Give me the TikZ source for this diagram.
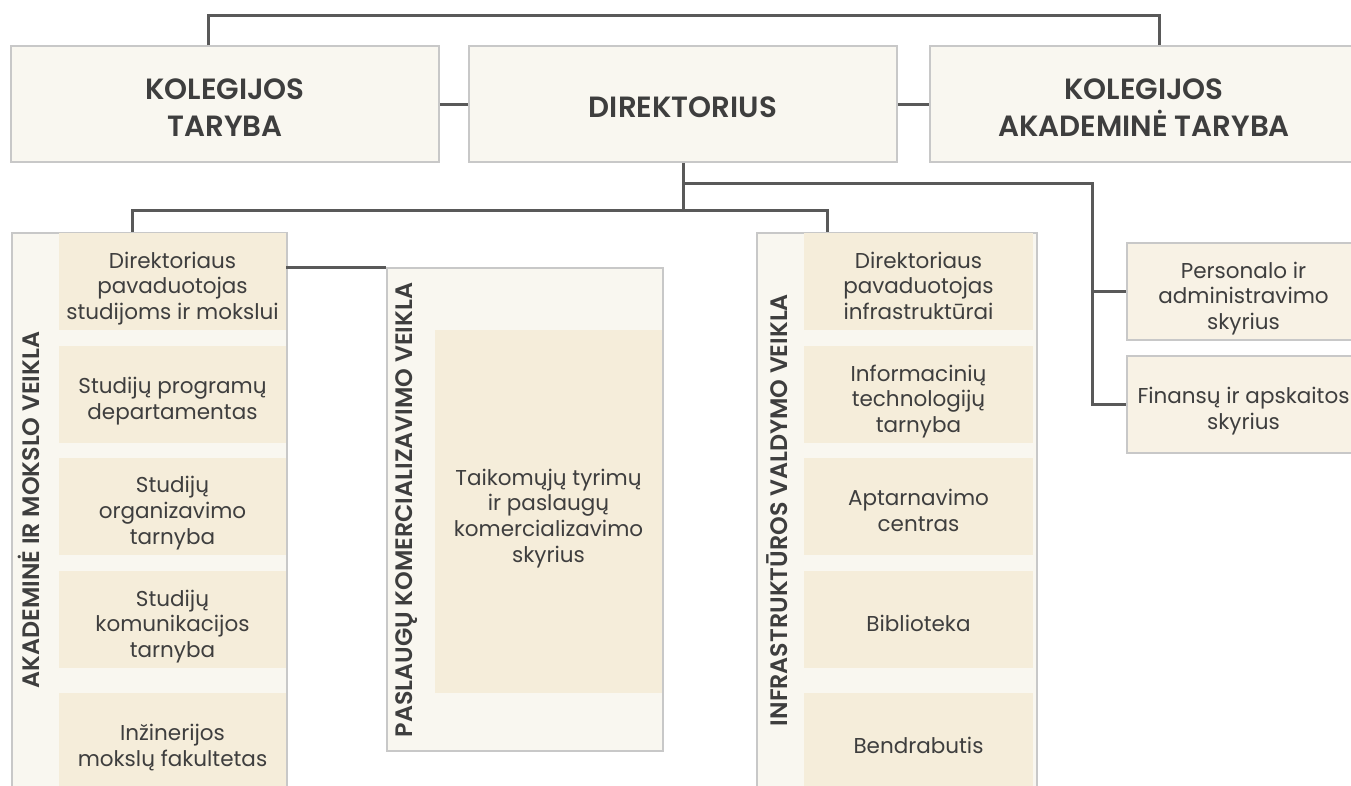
\documentclass[tikz,border=0pt]{standalone}
\usepackage{fontspec}
\setmainfont{Poppins}[BoldFont={Poppins SemiBold}]
\usetikzlibrary{positioning,calc}

\definecolor{paleback}{HTML}{F9F7F0}
\definecolor{unitfill}{HTML}{F5EDDA}
\definecolor{sidefill}{HTML}{F8F2E5}
\definecolor{boxline}{HTML}{C8C8C8}
\definecolor{linkgrey}{HTML}{595959}
\definecolor{ink}{HTML}{3E3E3E}

\newcommand{\headfont}{\fontsize{29.3}{37}\selectfont\bfseries}
\newcommand{\bodyfont}{\fontsize{21.5}{25.7}\selectfont}
\newcommand{\labelfont}{\fontsize{23.8}{27}\selectfont\bfseries}
% struts that set the text a little low in its box
\newcommand{\headtext}[1]{\rule{0pt}{27.5pt}#1}
\newcommand{\unittext}[1]{\rule{0pt}{30.6pt}#1\rule[-6pt]{0pt}{6pt}}

\tikzset{
  topbox/.style={draw=boxline, line width=1.5pt, fill=paleback, text=ink, font=\headfont,
    align=center, minimum width=428, minimum height=116, inner sep=0pt},
  frame/.style={draw=boxline, line width=1.5pt, fill=paleback, inner sep=0pt},
  unitbox/.style={fill=unitfill, text=ink, font=\bodyfont, align=center,
    minimum width=227, minimum height=97, inner sep=0pt},
  sidebox/.style={unitbox, fill=sidefill, draw=boxline, line width=1.5pt, minimum width=233},
  sidelabel/.style={rotate=90, text=ink, font=\labelfont, inner sep=0pt},
  link/.style={draw=linkgrey, line width=3pt}
}

\begin{document}
\begin{tikzpicture}[x=1pt,y=-1pt]
\useasboundingbox (0,0) rectangle (1351,785);

% Top level
\node[topbox] (kt) at (225,104) {\headtext{KOLEGIJOS\\TARYBA}};
\node[topbox] (dir) at (683,104) {\headtext{DIREKTORIUS}};
\node[topbox] (kat) at (1144,104) {\headtext{KOLEGIJOS\\AKADEMINĖ TARYBA}};

\coordinate (topbar) at (683,15);
\draw[link] ([xshift=-17]kt.north) |- (topbar) -| ([xshift=15]kat.north);
\draw[link] (kt.east) -- (dir.west);
\draw[link] (dir.east) -- (kat.west);

% Column frames
\node[frame, minimum width=275, minimum height=567] (acad) at (149.5,516.5) {};
\node[frame, minimum width=276, minimum height=483] (pas) at (525,509.5) {};
\node[frame, minimum width=280, minimum height=567] (infra) at (897,516.5) {};

\node[sidelabel] (acadlabel) at (29,510) {AKADEMINĖ IR MOKSLO VEIKLA};
\node[sidelabel] (paslabel) at (407,510) {PASLAUGŲ KOMERCIALIZAVIMO VEIKLA};
\node[sidelabel] (infralabel) at (777,510) {INFRASTRUKTŪROS VALDYMO VEIKLA};

% Academic units
\foreach \n/\y/\txt in {1/281.5/{Direktoriaus\\pavaduotojas\\studijoms ir mokslui},
                        2/394.5/{Studijų programų\\departamentas},
                        3/506/{Studijų\\organizavimo\\tarnyba},
                        4/619.5/{Studijų\\komunikacijos\\tarnyba},
                        5/741.5/{Inžinerijos\\mokslų fakultetas}}
  \node[unitbox] (a\n) at (172.5,\y) {\unittext{\txt}};

% Commercial unit
\node[unitbox, minimum height=363] (p1) at (548.5,511.5) {\unittext{Taikomųjų tyrimų\\ir paslaugų\\komercializavimo\\skyrius}};

% Infrastructure units
\foreach \n/\y/\txt in {1/281.5/{Direktoriaus\\pavaduotojas\\infrastruktūrai},
                        2/394.5/{Informacinių\\technologijų\\tarnyba},
                        3/506/{Aptarnavimo\\centras},
                        4/619.5/{Biblioteka},
                        5/741.5/{Bendrabutis}}
  \node[unitbox, minimum width=229] (i\n) at (918.5,\y) {\unittext{\txt}};

% Side departments
\node[sidebox] (pers) at (1243.5,291.5) {\unittext{Personalo ir\\administravimo\\skyrius}};
\node[sidebox] (fin) at (1243.5,404.5) {\unittext{Finansų ir apskaitos\\skyrius}};

% Director links
\coordinate (fork) at (683,210);
\coordinate (sidefork) at (683,183);
\coordinate (sidebar) at (1092,183);
\draw[link] (dir.south) -- (fork);
\draw[link] (fork) -| ([xshift=-17.5]acad.north);
\draw[link] (fork) -| ([xshift=-70]infra.north);
\draw[link] (sidefork) -- (sidebar) |- (fin.west);
\draw[link] (sidebar |- pers.west) -- (pers.west);
\draw[link] (a1.east |- pas.north) -- (pas.north west);

\end{tikzpicture}
\end{document}
